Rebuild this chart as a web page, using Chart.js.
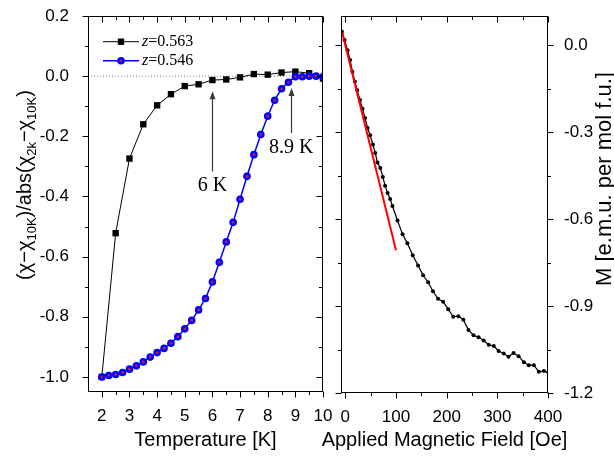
<!DOCTYPE html>
<html>
<head>
<meta charset="utf-8">
<script src="https://cdn.jsdelivr.net/npm/chart.js@4.4.1/dist/chart.umd.min.js"></script>
<style>
  html, body { margin: 0; padding: 0; background: #fff; }
  #painel { position: relative; width: 614px; height: 457px; overflow: hidden; }
  #painel canvas { position: absolute; top: 0; }
  #graficoTemperatura { left: 0; }
  #graficoCampo { left: 300px; }
</style>
</head>
<body>
<div id="painel">
  <canvas id="graficoTemperatura" width="335" height="457"></canvas>
  <canvas id="graficoCampo" width="314" height="457"></canvas>
</div>
<script>
// ---- dados ----
const temperaturaZ563 = [2, 2.5, 3, 3.5, 4, 4.5, 5, 5.5, 6, 6.5, 7, 7.5, 8, 8.5, 9, 9.5, 10]
const chiZ563 = [-1.0, -0.522, -0.274, -0.160, -0.097, -0.060, -0.033, -0.027, -0.013, -0.011, -0.004, 0.007, 0.005, 0.012, 0.015, 0.010, -0.008]

const temperaturaZ546 = [2, 2.25, 2.5, 2.75, 3, 3.25, 3.5, 3.75, 4, 4.25, 4.5, 4.75, 5, 5.25, 5.5, 5.75,
    6, 6.25, 6.5, 6.75, 7, 7.25, 7.5, 7.75, 8, 8.25, 8.5, 8.75, 9, 9.25, 9.5, 9.75, 10]
const chiZ546 = [-1.0, -0.995, -0.992, -0.985, -0.974, -0.963, -0.950, -0.934, -0.919, -0.905, -0.888, -0.866, -0.840, -0.812, -0.777, -0.739,
    -0.684, -0.619, -0.551, -0.486, -0.409, -0.333, -0.261, -0.194, -0.133, -0.080, -0.042, -0.020, -0.002, -0.002, 0.0, 0.0, -0.002]

const campoAplicado = [-6.5, -1.5, 4.5, 9.5, 14, 19, 23.5, 29, 34, 39, 44, 49, 54.5, 59, 63.5, 69, 74, 78.5, 83.5, 88.5,
    93, 103, 113, 122.5, 133, 143.5, 153.5, 163.5, 173, 183, 193, 203, 213, 223, 233, 243, 253, 263, 273, 283,
    293, 302.5, 312.5, 322, 332, 342, 352.5, 362, 372, 382, 392, 401]
const magnetizacao = [0.046, 0.017, -0.018, -0.052, -0.092, -0.126, -0.156, -0.190, -0.220, -0.252, -0.286, -0.311, -0.343, -0.372, -0.405, -0.424, -0.455, -0.485, -0.510, -0.531,
    -0.555, -0.605, -0.653, -0.684, -0.725, -0.760, -0.794, -0.818, -0.849, -0.875, -0.885, -0.911, -0.937, -0.935, -0.947, -0.983, -1.001, -1.008, -1.019, -1.034,
    -1.038, -1.055, -1.064, -1.075, -1.062, -1.073, -1.094, -1.104, -1.104, -1.127, -1.124, -1.130]

const ajusteCampo = [-6.5, 100]
const ajusteMagnetizacao = [0.046, -0.708]

const rotulosSerie = ['0.563', '0.546']

const ticksTemperatura = [2, 3, 4, 5, 6, 7, 8, 9, 10]
const menoresTemperatura = [2.5, 3.5, 4.5, 5.5, 6.5, 7.5, 8.5, 9.5]
const ticksChi = [-1.0, -0.8, -0.6, -0.4, -0.2, 0.0, 0.2]
const menoresChi = [-0.9, -0.7, -0.5, -0.3, -0.1, 0.1]
const ticksCampo = [0, 100, 200, 300, 400]
const menoresCampo = [50, 150, 250, 350]
const ticksMagnetizacao = [-1.2, -0.9, -0.6, -0.3, 0.0]
const menoresMagnetizacao = [-1.05, -0.75, -0.45, -0.15]

// setas de transicao (em unidades dos eixos)
const setas = [
    { x: 6.0, base: -0.317, ponta: -0.05, texto: '6 K', yTexto: -0.363 },
    { x: 8.85, base: -0.189, ponta: -0.039, texto: '8.9 K', yTexto: -0.238 }
]

const fonteSans = "'Liberation Sans', Arial, Helvetica, sans-serif"
const fonteSerif = "'Liberation Serif', 'Times New Roman', serif"

function pontos(xs, ys) {
    return xs.map((x, i) => ({ x: x, y: ys[i] }))
}

// moldura + marcas maiores/menores nos quatro lados
const marcasEixos = {
    id: 'marcasEixos',
    afterDatasetsDraw(chart, args, opts) {
        const ctx = chart.ctx
        const a = chart.chartArea
        const sx = chart.scales.x
        const sy = chart.scales.y
        const L = Math.round(a.left) + 0.5, R = Math.round(a.right) - 0.5
        const T = Math.round(a.top) + 0.5, B = Math.round(a.bottom) - 0.5
        ctx.save()
        ctx.strokeStyle = '#000'
        ctx.lineWidth = 1
        ctx.strokeRect(L, T, R - L, B - T)
        const traco = (x1, y1, x2, y2) => { ctx.beginPath(); ctx.moveTo(x1, y1); ctx.lineTo(x2, y2); ctx.stroke() }
        const lados = opts.lados
        const fora = (lado) => lados[lado] == 'out' ? 1 : -1
        ;[[opts.xMaior, opts.maior], [opts.xMenor, opts.menor]].forEach(([vals, len]) => {
            vals.forEach(v => {
                const p = Math.round(sx.getPixelForValue(v)) + 0.5
                traco(p, B, p, B + fora('bottom') * len)
                traco(p, T, p, T - fora('top') * len)
            })
        })
        ;[[opts.yMaior, opts.maior], [opts.yMenor, opts.menor]].forEach(([vals, len]) => {
            vals.forEach(v => {
                const p = Math.round(sy.getPixelForValue(v)) + 0.5
                traco(L, p, L - fora('left') * len, p)
                traco(R, p, R + fora('right') * len, p)
            })
        })
        ctx.restore()
    }
}

// titulos dos eixos (com subscritos, horizontais ou verticais)
const titulosEixos = {
    id: 'titulosEixos',
    afterDraw(chart, args, opts) {
        const ctx = chart.ctx
        opts.lista.forEach(tit => {
            ctx.save()
            ctx.fillStyle = '#000'
            ctx.textBaseline = tit.vertical ? 'alphabetic' : 'middle'
            const fonteDe = (p) => (p.sub ? tit.tamanho * 0.65 : tit.tamanho) + 'px ' + fonteSans
            let total = 0
            tit.partes.forEach(p => { ctx.font = fonteDe(p); total += ctx.measureText(p.t).width })
            const cxCentro = tit.x === undefined ? (chart.chartArea.left + chart.chartArea.right) / 2 : tit.x
            ctx.translate(cxCentro, tit.y)
            if (tit.vertical) ctx.rotate(-Math.PI / 2)
            let cx = -total / 2
            tit.partes.forEach(p => {
                ctx.font = fonteDe(p)
                ctx.fillText(p.t, cx, p.sub ? tit.tamanho * 0.25 : 0)
                cx += ctx.measureText(p.t).width
            })
            ctx.restore()
        })
    }
}

// legenda desenhada a mao (z em italico)
const legendaManual = {
    id: 'legendaManual',
    afterDraw(chart, args, opts) {
        if (!opts.itens) return
        const ctx = chart.ctx
        ctx.save()
        opts.itens.forEach((it, i) => {
            const y = opts.y0 + i * opts.dy
            const xm = (opts.x0 + opts.x1) / 2
            ctx.strokeStyle = it.cor
            ctx.lineWidth = it.espessura
            ctx.beginPath(); ctx.moveTo(opts.x0, y); ctx.lineTo(opts.x1, y); ctx.stroke()
            ctx.fillStyle = it.cor
            if (it.estilo == 'rect') {
                ctx.fillRect(xm - 3.2, y - 3.2, 6.4, 6.4)
            } else {
                ctx.beginPath(); ctx.arc(xm, y, 3.8, 0, 2 * Math.PI); ctx.fill()
                ctx.fillStyle = it.miolo
                ctx.beginPath(); ctx.arc(xm, y, 1.3, 0, 2 * Math.PI); ctx.fill()
            }
            ctx.fillStyle = '#000'
            ctx.textBaseline = 'middle'
            ctx.font = 'italic 16px ' + fonteSerif
            ctx.fillText('z', opts.x1 + 3, y)
            const w = ctx.measureText('z').width
            ctx.font = '16px ' + fonteSerif
            ctx.fillText('=' + it.rotulo, opts.x1 + 3 + w, y)
        })
        ctx.restore()
    }
}

// setas com anotacao
const setasTransicao = {
    id: 'setasTransicao',
    afterDraw(chart, args, opts) {
        if (!opts.setas) return
        const ctx = chart.ctx
        const sx = chart.scales.x
        const sy = chart.scales.y
        ctx.save()
        opts.setas.forEach(s => {
            const x = Math.round(sx.getPixelForValue(s.x)) + 0.5
            const yb = sy.getPixelForValue(s.base)
            const yp = sy.getPixelForValue(s.ponta)
            ctx.strokeStyle = '#3a3a3a'
            ctx.fillStyle = '#3a3a3a'
            ctx.lineWidth = 1.2
            ctx.beginPath(); ctx.moveTo(x, yb); ctx.lineTo(x, yp + 6); ctx.stroke()
            ctx.beginPath(); ctx.moveTo(x, yp); ctx.lineTo(x - 3, yp + 8); ctx.lineTo(x + 3, yp + 8); ctx.closePath(); ctx.fill()
            ctx.fillStyle = '#000'
            ctx.font = '20px ' + fonteSerif
            ctx.textAlign = 'center'
            ctx.textBaseline = 'middle'
            ctx.fillText(s.texto, sx.getPixelForValue(s.x), sy.getPixelForValue(s.yTexto))
        })
        ctx.restore()
    }
}

function eixo(min, max, ticks, decimais, padding, tamanhoFixo, extra) {
    return Object.assign({
        type: 'linear',
        min: min,
        max: max,
        afterBuildTicks: s => { s.ticks = ticks.map(v => ({ value: v })) },
        afterFit: s => {
            if (s.isHorizontal()) s.height = tamanhoFixo
            else s.width = tamanhoFixo
            // sem folga extra para os rotulos das pontas
            s.paddingLeft = 0; s.paddingRight = 0; s.paddingTop = 0; s.paddingBottom = 0
        },
        grid: { display: false },
        border: { display: false },
        ticks: {
            padding: padding,
            color: '#000',
            autoSkip: false,
            maxRotation: 0,
            font: { family: fonteSans, size: 17 },
            callback: v => v.toFixed(decimais)
        }
    }, extra)
}

function criarGraficoTemperatura() {
    new Chart(document.getElementById('graficoTemperatura'), {
        type: 'line',
        data: {
            datasets: [
                {
                    label: 'miolo',
                    data: pontos(temperaturaZ546, chiZ546),
                    showLine: false,
                    pointRadius: 1.3,
                    pointBackgroundColor: '#e0104a',
                    pointBorderWidth: 0,
                    order: 0
                },
                {
                    label: 'z=0.546',
                    data: pontos(temperaturaZ546, chiZ546),
                    borderColor: '#0000ff',
                    borderWidth: 1.5,
                    pointRadius: 3.8,
                    pointBackgroundColor: '#0000ff',
                    pointBorderWidth: 0,
                    order: 1
                },
                {
                    label: 'z=0.563',
                    data: pontos(temperaturaZ563, chiZ563),
                    borderColor: '#000',
                    borderWidth: 1,
                    pointStyle: 'rect',
                    pointRadius: 4.5,
                    pointBackgroundColor: '#000',
                    pointBorderWidth: 0,
                    order: 2
                },
                {
                    label: 'zero',
                    data: pontos([1.5, 10], [0, 0]),
                    borderColor: '#777',
                    borderWidth: 1,
                    borderDash: [1, 2],
                    pointRadius: 0,
                    order: 3
                }
            ]
        },
        options: {
            responsive: false,
            devicePixelRatio: 1,
            animation: false,
            events: [],
            layout: { padding: { left: 0, right: 12, top: 16, bottom: 0 } },
            plugins: {
                legend: { display: false },
                tooltip: { enabled: false },
                marcasEixos: {
                    xMaior: ticksTemperatura, xMenor: menoresTemperatura,
                    yMaior: ticksChi, yMenor: menoresChi,
                    lados: { bottom: 'out', top: 'in', left: 'out', right: 'in' },
                    maior: 6, menor: 3.5
                },
                titulosEixos: {
                    lista: [
                        { y: 440, tamanho: 20, partes: [{ t: 'Temperature [K]' }] },
                        {
                            vertical: true, x: 31, y: 185, tamanho: 20,
                            partes: [
                                { t: '(\u03C7\u2212\u03C7' }, { t: '10K', sub: true },
                                { t: ')/abs(\u03C7' }, { t: '2k', sub: true },
                                { t: '\u2212\u03C7' }, { t: '10K', sub: true }, { t: ')' }
                            ]
                        }
                    ]
                },
                legendaManual: {
                    x0: 103, x1: 139, y0: 41.7, dy: 19,
                    itens: [
                        { rotulo: rotulosSerie[0], cor: '#000', estilo: 'rect', espessura: 1 },
                        { rotulo: rotulosSerie[1], cor: '#0000ff', estilo: 'circle', miolo: '#e0104a', espessura: 1.5 }
                    ]
                },
                setasTransicao: { setas: setas }
            },
            scales: {
                x: eixo(1.5, 10, ticksTemperatura, 0, 6, 65, {}),
                y: eixo(-1.05, 0.2, ticksChi, 1, 11, 88, {})
            }
        },
        plugins: [marcasEixos, titulosEixos, legendaManual, setasTransicao]
    })
}

function criarGraficoCampo() {
    new Chart(document.getElementById('graficoCampo'), {
        type: 'line',
        data: {
            datasets: [
                {
                    label: 'ajuste',
                    data: pontos(ajusteCampo, ajusteMagnetizacao),
                    borderColor: '#ff0000',
                    borderWidth: 2,
                    pointRadius: 0,
                    order: 0
                },
                {
                    label: 'M(H)',
                    data: pontos(campoAplicado, magnetizacao),
                    borderColor: '#000',
                    borderWidth: 1.2,
                    pointRadius: 2,
                    pointBackgroundColor: '#000',
                    pointBorderWidth: 0,
                    order: 1
                }
            ]
        },
        options: {
            responsive: false,
            devicePixelRatio: 1,
            animation: false,
            events: [],
            layout: { padding: { left: 41, right: 0, top: 16, bottom: 0 } },
            plugins: {
                legend: { display: false },
                tooltip: { enabled: false },
                marcasEixos: {
                    xMaior: ticksCampo, xMenor: menoresCampo,
                    yMaior: ticksMagnetizacao, yMenor: menoresMagnetizacao,
                    lados: { bottom: 'out', top: 'in', left: 'out', right: 'out' },
                    maior: 6, menor: 3.5
                },
                titulosEixos: {
                    lista: [
                        { y: 440, tamanho: 20, partes: [{ t: 'Applied Magnetic Field [Oe]' }] },
                        { vertical: true, x: 311, y: 179, tamanho: 22, partes: [{ t: 'M [e.m.u. per mol f.u.]' }] }
                    ]
                }
            },
            scales: {
                x: eixo(-8.5, 400, ticksCampo, 0, 6, 64, {}),
                y: eixo(-1.2, 0.1, ticksMagnetizacao, 1, 8, 66, { position: 'right' })
            }
        },
        plugins: [marcasEixos, titulosEixos]
    })
}

criarGraficoTemperatura()
criarGraficoCampo()
</script>
</body>
</html>
